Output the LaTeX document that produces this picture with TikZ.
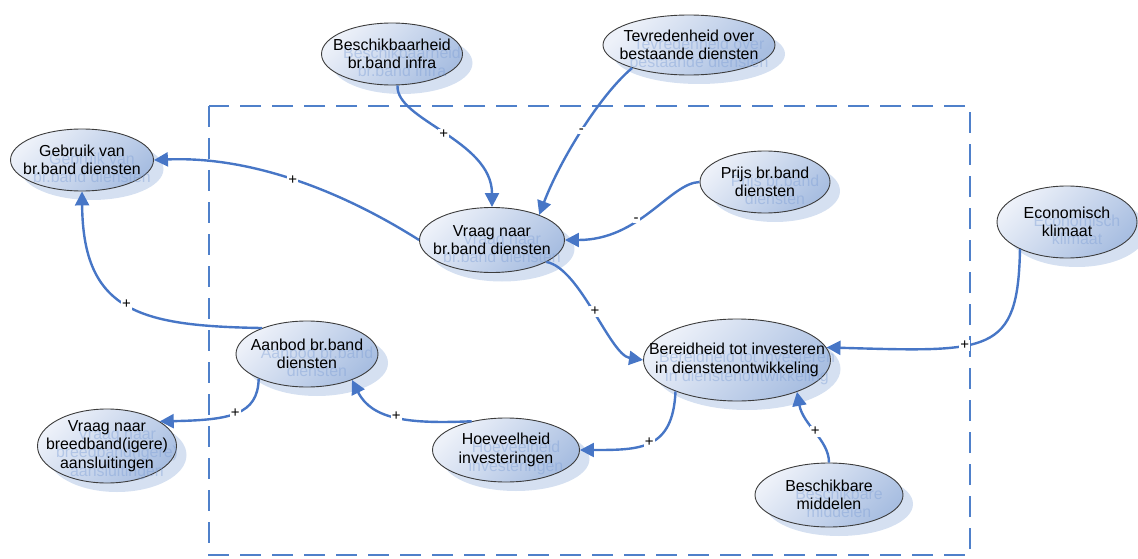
\documentclass[tikz,border=0pt]{standalone}
\usepackage{fontspec}
\setmainfont{Liberation Sans}
\usetikzlibrary{shapes.geometric,arrows.meta,shadows}

\definecolor{linkblue}{HTML}{4776C6}
\definecolor{frameblue}{HTML}{4F80CA}
\definecolor{bubtop}{HTML}{EDF1F9}
\definecolor{bubbot}{HTML}{A8BEE1}
\definecolor{bubshadow}{HTML}{D5E0F1}
\definecolor{ghostblue}{HTML}{7E9FD6}
\definecolor{rim}{HTML}{3C3C3C}

\pgfdeclarelayer{shapes}
\pgfdeclarelayer{ghost}
\pgfsetlayers{shapes,ghost,main}

\tikzset{
  bubble/.style={ellipse, draw=rim, line width=0.9pt, inner sep=0pt,
    top color=bubtop, bottom color=bubbot, shading angle=45,
    drop shadow={shadow xshift=10pt, shadow yshift=-9pt, fill=bubshadow, opacity=1, draw=none}},
  bubtext/.style={align=center, font=\fontsize{15.9}{18.3}\selectfont, inner sep=0pt},
  ghosttext/.style={bubtext, text=ghostblue, text opacity=0.42, xshift=10pt, yshift=-8pt},
  link/.style={draw=linkblue, line width=2.4pt, -{Triangle[length=14pt,width=14pt]}},
  sign/.style={fill=white, inner sep=1.2pt, font=\fontsize{15}{15}\selectfont, text=black},
  frame/.style={draw=frameblue, line width=2.2pt, dash pattern=on 21pt off 11pt},
}

% ellipse with its drop shadow, a pale echo of the caption and the caption itself
\newcommand\bubblenode[5]{%
  \begin{pgfonlayer}{shapes}
    \node[bubble, minimum width=#3pt, minimum height=#4pt] (#1) at (#2) {};
  \end{pgfonlayer}
  \begin{pgfonlayer}{ghost}
    \node[ghosttext] (#1-ghost) at (#1) {#5};
  \end{pgfonlayer}
  \node[bubtext] (#1-text) at (#1) {#5};
}

\begin{document}
\begin{tikzpicture}[x=1pt, y=-1pt]
  \useasboundingbox (0,0) rectangle (1138,559);

  \begin{pgfonlayer}{shapes}
    \draw[frame] (209,106) rectangle (970,555);
  \end{pgfonlayer}

  \bubblenode{gebruik}{82,160}{143}{62}{Gebruik van\\br.band diensten}
  \bubblenode{beschik}{392,54}{141}{62}{Beschikbaarheid\\br.band infra}
  \bubblenode{tevr}{689,45}{172}{60}{Tevredenheid over\\bestaande diensten}
  \bubblenode{prijs}{765,182}{130}{62}{Prijs br.band\\diensten}
  \bubblenode{vraag}{492,240}{145}{65}{Vraag naar\\br.band diensten}
  \bubblenode{econ}{1067,222}{140}{72}{Economisch\\klimaat}
  \bubblenode{bereid}{737,360}{187}{82}{Bereidheid tot investeren\\in dienstenontwikkeling}
  \bubblenode{aanbod}{307,354}{142}{66}{Aanbod br.band\\diensten}
  \bubblenode{vbb}{107,446}{139}{74}{Vraag naar\\breedband(igere)\\aansluitingen}
  \bubblenode{hoev}{506,450}{147}{64}{Hoeveelheid\\investeringen}
  \bubblenode{bmid}{829,495}{148}{64}{Beschikbare\\middelen}

  % causal links
  \draw[link] (vraag.west) .. controls (340,190) and (250,156) .. (gebruik.east)
    node[sign, pos=0.5] (sa) {+};
  \draw[link] (aanbod.150) .. controls (140,326) and (83,312) .. (gebruik.south)
    node[sign, pos=0.5] (sb) {+};
  \draw[link] (beschik.-80) .. controls (395,120) and (492,140) .. (vraag.north)
    node[sign, pos=0.5] (sc) {+};
  \draw[link] (tevr.-158) .. controls (600,95) and (560,160) .. (vraag.28)
    node[sign, pos=0.5] (sd) {-};
  \draw[link] (prijs.west) .. controls (670,183) and (640,240) .. (vraag.east)
    node[sign, pos=0.6] (se) {-};
  \draw[link] (vraag.-22) .. controls (580,268) and (610,355) .. (bereid.west)
    node[sign, pos=0.5] (sf) {+};
  \draw[link] (econ.-150) .. controls (1018,355) and (990,352) .. (bereid.8)
    node[sign, pos=0.6] (sg) {+};
  \draw[link] (bmid.north) .. controls (829,440) and (803,425) .. (bereid.-28)
    node[sign, pos=0.5] (sh) {+};
  \draw[link] (bereid.-153) .. controls (673,450) and (640,450) .. (hoev.east)
    node[sign, pos=0.5] (si) {+};
  \draw[link] (hoev.140) .. controls (410,424) and (372,420) .. (aanbod.-30)
    node[sign, pos=0.5] (sj) {+};
  \draw[link] (aanbod.-153) .. controls (258,415) and (230,420) .. (vbb.25)
    node[sign, pos=0.5] (sk) {+};
\end{tikzpicture}
\end{document}
